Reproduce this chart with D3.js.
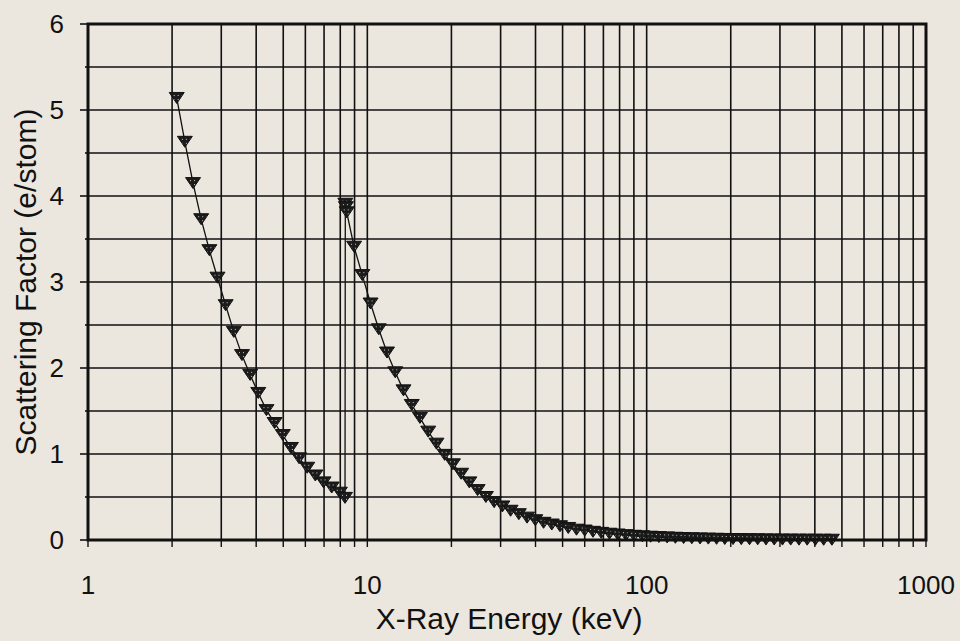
<!DOCTYPE html>
<html>
<head>
<meta charset="utf-8">
<script src="https://cdn.jsdelivr.net/npm/d3@7"></script>
<style>
  html, body { margin: 0; padding: 0; background: #ebe6de; }
  svg { display: block; }
  text { font-family: "Liberation Sans", Arial, sans-serif; fill: #111; }
</style>
</head>
<body>
<svg id="chart" width="960" height="641"></svg>
<script>
// ---- data ----
const seg1Energy = [2.078, 2.222, 2.377, 2.542, 2.719, 2.908, 3.110, 3.327, 3.558, 3.806, 4.070, 4.354, 4.656, 4.981, 5.327, 5.698, 6.094, 6.516, 6.970, 7.455, 7.973, 8.320];
const seg1Value  = [5.14, 4.63, 4.15, 3.73, 3.37, 3.05, 2.73, 2.42, 2.15, 1.92, 1.71, 1.51, 1.36, 1.22, 1.07, 0.95, 0.84, 0.75, 0.67, 0.61, 0.55, 0.49];
const edgeEnergy = [8.34, 8.38, 8.44];
const edgeValue  = [3.91, 3.87, 3.81];
const seg2Energy = [8.964, 9.594, 10.27, 10.99, 11.76, 12.59, 13.47, 14.42, 15.43, 16.52, 17.68, 18.92, 20.25, 21.67, 23.19, 24.82, 26.57, 28.44, 30.43, 32.57, 34.86, 37.31, 39.93, 42.74, 45.74, 48.96, 52.40, 56.08, 60.02, 64.24, 68.75, 73.58, 78.75, 84.29, 90.21, 96.55, 103.3, 110.6, 118.4, 126.7, 135.6, 145.1, 155.3, 166.2, 177.9, 190.4, 203.8, 218.1, 233.4, 249.8, 267.4, 286.2, 306.3, 327.8, 350.9, 375.5, 401.9, 430.1, 460.4];
const seg2Value  = [3.41, 3.08, 2.75, 2.45, 2.18, 1.95, 1.74, 1.57, 1.42, 1.26, 1.12, 0.99, 0.88, 0.77, 0.67, 0.58, 0.50, 0.44, 0.39, 0.34, 0.30, 0.26, 0.23, 0.20, 0.18, 0.16, 0.14, 0.12, 0.11, 0.095, 0.083, 0.073, 0.064, 0.056, 0.049, 0.043, 0.038, 0.034, 0.030, 0.026, 0.023, 0.020, 0.018, 0.016, 0.014, 0.012, 0.011, 0.010, 0.009, 0.008, 0.007, 0.006, 0.005, 0.005, 0.004, 0.004, 0.003, 0.003, 0.003];

const xTickLabels = ["1", "10", "100", "1000"];
const xMajorTicks = [1, 10, 100, 1000];
const yTickLabels = ["0", "1", "2", "3", "4", "5", "6"];
const yMajorTicks = [0, 1, 2, 3, 4, 5, 6];
const yGridTicks = [0.5, 1, 1.5, 2, 2.5, 3, 3.5, 4, 4.5, 5, 5.5];
const xTitle = "X-Ray Energy (keV)";
const yTitle = "Scattering Factor (e/stom)";

// ---- build ----
const svg = d3.select("#chart");
const L = 88, R = 926, T = 24, B = 540;
const x = d3.scaleLog().domain([1, 1000]).range([L, R]);
const y = d3.scaleLinear().domain([0, 6]).range([B, T]);

const defs = svg.append("defs");
const pat = defs.append("pattern").attr("id", "dots")
  .attr("width", 4).attr("height", 4).attr("patternUnits", "userSpaceOnUse");
pat.append("rect").attr("width", 4).attr("height", 4).attr("fill", "#1b1b1b");
pat.append("rect").attr("x", 1).attr("y", 1).attr("width", 1).attr("height", 1).attr("fill", "#cfcac2");

// vertical grid lines (log minor ticks)
const xGrid = [];
for (const dec of [1, 10, 100]) for (let k = 1; k <= 9; k++) xGrid.push(dec * k);
const gGrid = svg.append("g");
gGrid.selectAll("line.vx").data(xGrid.filter(v => v > 1)).enter().append("line")
  .attr("x1", d => x(d)).attr("x2", d => x(d)).attr("y1", T).attr("y2", B)
  .attr("stroke", "#111").attr("stroke-width", 1.6);
gGrid.selectAll("line.hy").data(yGridTicks).enter().append("line")
  .attr("x1", L).attr("x2", R).attr("y1", d => y(d)).attr("y2", d => y(d))
  .attr("stroke", "#111").attr("stroke-width", 1.6);

// x ticks (below axis)
svg.append("g").selectAll("line").data(xGrid.concat([1000])).enter().append("line")
  .attr("x1", d => x(d)).attr("x2", d => x(d)).attr("y1", B).attr("y2", B + 7)
  .attr("stroke", "#111").attr("stroke-width", 1.4);
// y ticks (left)
svg.append("g").selectAll("line").data(yMajorTicks).enter().append("line")
  .attr("x1", L - 8).attr("x2", L).attr("y1", d => y(d)).attr("y2", d => y(d))
  .attr("stroke", "#111").attr("stroke-width", 1.6);
svg.append("g").selectAll("line").data(yGridTicks.filter(v => v % 1 !== 0)).enter().append("line")
  .attr("x1", L - 3).attr("x2", L).attr("y1", d => y(d)).attr("y2", d => y(d))
  .attr("stroke", "#111").attr("stroke-width", 1.6);

// labels
svg.append("g").selectAll("text").data(xMajorTicks).enter().append("text")
  .attr("x", d => x(d)).attr("y", 594).attr("text-anchor", "middle")
  .attr("font-size", 26).text((d, i) => xTickLabels[i]);
svg.append("g").selectAll("text").data(yMajorTicks).enter().append("text")
  .attr("x", 64).attr("y", d => y(d)).attr("dy", "0.36em").attr("text-anchor", "end")
  .attr("font-size", 26).text((d, i) => yTickLabels[i]);

svg.append("text").attr("x", 509).attr("y", 629).attr("text-anchor", "middle")
  .attr("font-size", 30).text(xTitle);
svg.append("text").attr("transform", "translate(36,282) rotate(-90)")
  .attr("text-anchor", "middle").attr("font-size", 30).text(yTitle);

// series
const pts = [];
seg1Energy.forEach((e, i) => pts.push([e, seg1Value[i]]));
edgeEnergy.forEach((e, i) => pts.push([e, edgeValue[i]]));
seg2Energy.forEach((e, i) => pts.push([e, seg2Value[i]]));

svg.append("path").datum(pts)
  .attr("d", d3.line().x(d => x(d[0])).y(d => y(d[1])))
  .attr("fill", "none").attr("stroke", "#111").attr("stroke-width", 1.3);

const tri = "M-7.5,-5.5L7.5,-5.5L0,5.5Z";
svg.append("g").selectAll("path").data(pts).enter().append("path")
  .attr("transform", d => `translate(${x(d[0])},${y(d[1])})`)
  .attr("d", tri).attr("fill", "url(#dots)").attr("stroke", "#111").attr("stroke-width", 1);

// plot border
svg.append("rect").attr("x", L).attr("y", T).attr("width", R - L).attr("height", B - T)
  .attr("fill", "none").attr("stroke", "#111").attr("stroke-width", 3);
</script>
</body>
</html>
